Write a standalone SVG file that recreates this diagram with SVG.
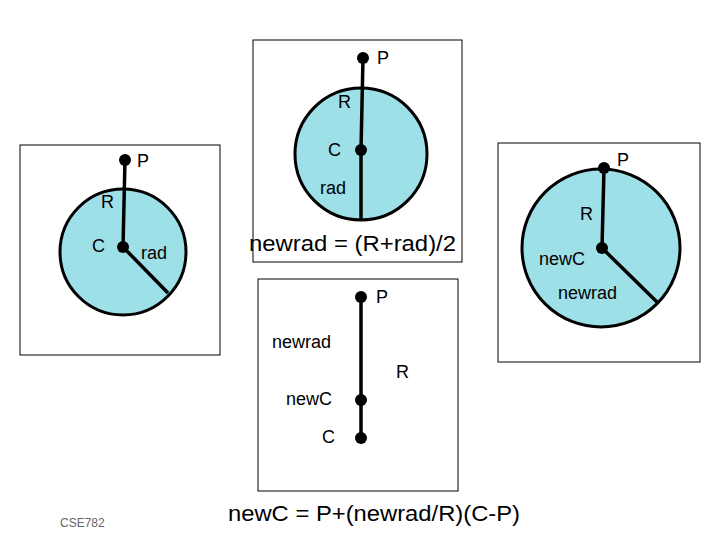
<svg xmlns="http://www.w3.org/2000/svg" width="720" height="540" viewBox="0 0 720 540">
<style>
.panel{fill:#fff;stroke:#000;stroke-width:1}
.disk{fill:#9ee0e8;stroke:#000;stroke-width:3}
.ln{stroke:#000;stroke-width:3.5;fill:none}
.dot{fill:#000}
text{font-family:"Liberation Sans",Arial,sans-serif;font-size:18px;fill:#000}
.big{font-size:22px}
.small{font-size:12px;fill:#666}
</style>
<rect width="720" height="540" fill="#fff"/>
<g id="panel-left">
<rect class="panel" x="20" y="145" width="200" height="210"/>
<circle class="disk" cx="123" cy="252" r="63"/>
<text x="137" y="167">P</text><text x="101" y="208">R</text><text x="92" y="252">C</text><text x="141" y="259">rad</text>
</g>
<g id="panel-top">
<rect class="panel" x="253" y="40" width="209" height="222"/>
<circle class="disk" cx="361" cy="154" r="66"/>
<text x="377" y="64">P</text><text x="338" y="108">R</text><text x="328" y="156">C</text><text x="320" y="194">rad</text>
<text class="big" x="249" y="251" textLength="207" lengthAdjust="spacingAndGlyphs">newrad = (R+rad)/2</text>
</g>
<g id="panel-right">
<rect class="panel" x="498" y="143" width="202" height="219"/>
<circle class="disk" cx="601" cy="248" r="79"/>
<text x="617" y="166">P</text><text x="580" y="220">R</text><text x="539" y="265">newC</text><text x="558" y="299">newrad</text>
</g>
<g id="panel-bottom">
<rect class="panel" x="258" y="279" width="200" height="212"/>
<text x="376" y="303">P</text><text x="272" y="348">newrad</text><text x="396" y="378">R</text><text x="286" y="405">newC</text><text x="322" y="443">C</text>
</g>
<g id="connectors">
<line class="ln" x1="125" y1="160" x2="123" y2="247"/><line class="ln" x1="123" y1="247" x2="168" y2="293"/>
<line class="ln" x1="363" y1="58" x2="361" y2="150"/><line class="ln" x1="361" y1="150" x2="361" y2="220"/>
<line class="ln" x1="604" y1="168" x2="602" y2="248"/><line class="ln" x1="602" y1="248" x2="657" y2="302"/>
<line class="ln" x1="361" y1="297" x2="361" y2="438"/>
<g class="dot">
<circle cx="125" cy="160" r="6"/><circle cx="123" cy="247" r="6"/>
<circle cx="363" cy="58" r="6"/><circle cx="361" cy="150" r="6"/>
<circle cx="604" cy="168" r="6"/><circle cx="602" cy="248" r="6"/>
<circle cx="361" cy="297" r="6"/><circle cx="361" cy="400" r="6"/><circle cx="361" cy="438" r="6"/>
</g>
</g>
<text class="big" x="228" y="521" textLength="292" lengthAdjust="spacingAndGlyphs">newC = P+(newrad/R)(C-P)</text>
<text class="small" x="60" y="527">CSE782</text>
</svg>
